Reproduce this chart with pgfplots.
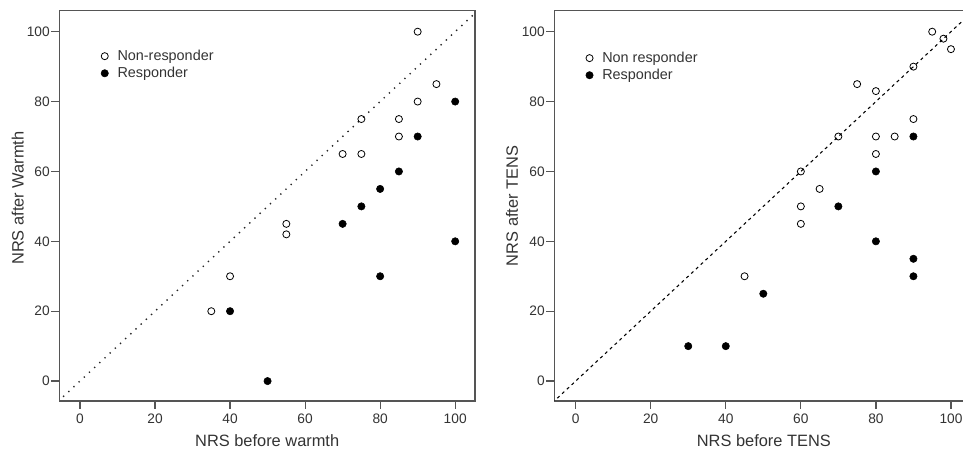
\documentclass[border=0pt]{standalone}
\usepackage{pgfplots}
\pgfplotsset{compat=1.18}
\usepackage{fontspec}
\setmainfont{Liberation Sans}
\definecolor{axisgray}{HTML}{555555}
\definecolor{txtgray}{HTML}{333333}

% NRS before/after, warmth
\pgfplotstableread{
x y
35 20
40 30
55 45
55 42
70 65
75 65
75 75
85 75
85 70
90 80
90 100
95 85
}\warmNon
\pgfplotstableread{
x y
40 20
50 0
70 45
75 50
80 55
80 30
85 60
90 70
100 80
100 40
}\warmResp
% NRS before/after, TENS
\pgfplotstableread{
x y
45 30
60 45
60 50
60 60
65 55
70 70
75 85
80 83
80 70
80 65
85 70
90 75
90 90
95 100
98 98
100 95
}\tensNon
\pgfplotstableread{
x y
30 10
40 10
50 25
70 50
80 60
80 40
90 70
90 35
90 30
}\tensResp

\pgfplotsset{
  nrs/.style={
    scale only axis,
    height=292.7pt,
    ymin=-5.7,ymax=106,
    xtick={0,20,...,100},ytick={0,20,...,100},
    tick align=outside,xtick pos=bottom,ytick pos=left,
    major tick length=6pt,
    axis line style={axisgray,line width=0.9pt},
    every tick/.style={axisgray,line width=0.9pt},
    tick label style={font=\fontsize{10.3}{12}\selectfont,text=txtgray},
    yticklabel style={inner xsep=1pt},
    /pgf/number format/assume math mode=true,
    label style={font=\fontsize{12.3}{14}\selectfont,text=txtgray},
    xlabel style={at={(axis description cs:0.5,-0.0)},anchor=north,yshift=-22pt},
    legend style={draw=none,fill=none,font=\fontsize{10.8}{12}\selectfont,text=txtgray,
      row sep=-0.5pt,inner sep=0pt,cells={anchor=west}},
    legend image code/.code={\draw[##1] plot coordinates {(0.12cm,0cm)};
      \path (0pt,0pt) (10.8pt,0pt);},
    clip=true,
  },
  nonresp/.style={only marks,mark=o,mark size=2.65pt,mark options={black,line width=0.6pt}},
  resp/.style={only marks,mark=*,mark size=2.75pt,mark options={black,fill=black}},
}

\begin{document}
\begin{tikzpicture}[x=1pt,y=1pt]
\path[use as bounding box] (0,0) rectangle (722.25,336.75);

\begin{axis}[nrs,
  at={(44.5pt,36pt)},anchor=south west,
  width=311.8pt,
  xmin=-5.5,xmax=105.3,
  xlabel={NRS before warmth},
  ylabel={NRS after Warmth},
  ylabel style={at={(axis description cs:-0.1,0.52)},anchor=center,rotate=0},
  legend style={at={(axis description cs:0.097,0.907)},anchor=north west}]
\addplot[black!85,line width=1.05pt,dash pattern=on 1pt off 4.3pt,forget plot]
  coordinates {(-10,-10) (110,110)};
\addplot[nonresp] table {\warmNon};
\addlegendentry{Non-responder}
\addplot[resp] table {\warmResp};
\addlegendentry{Responder}
\end{axis}

\begin{axis}[nrs,
  at={(415.7pt,36pt)},anchor=south west,
  width=314.4pt,
  xmin=-5.7,xmax=106,
  xlabel={NRS before TENS},
  ylabel={NRS after TENS},
  ylabel style={at={(axis description cs:-0.101,0.5)},anchor=center,rotate=0},
  legend style={at={(axis description cs:0.072,0.902)},anchor=north west}]
\addplot[black,line width=0.8pt,dash pattern=on 2.3pt off 2.6pt,forget plot]
  coordinates {(-10,-10) (110,110)};
\addplot[nonresp] table {\tensNon};
\addlegendentry{Non responder}
\addplot[resp] table {\tensResp};
\addlegendentry{Responder}
\end{axis}
\end{tikzpicture}
\end{document}
